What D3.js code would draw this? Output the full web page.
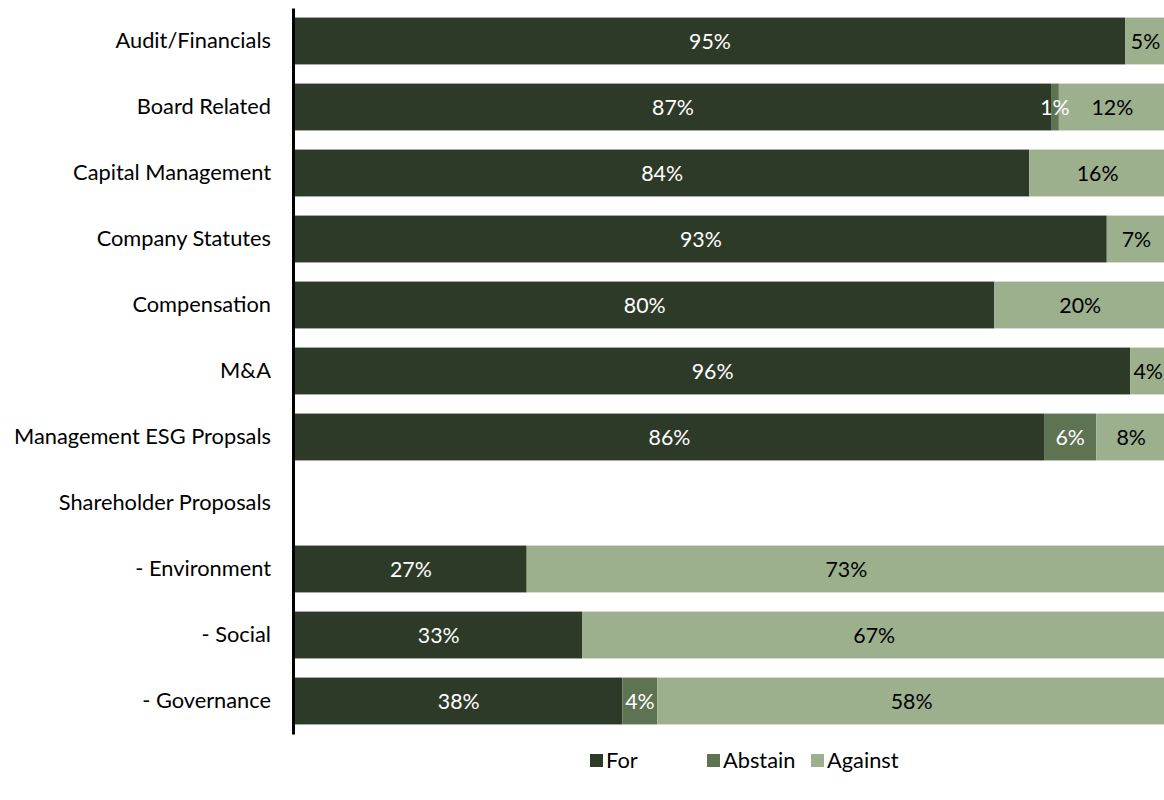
<!DOCTYPE html>
<html><head><meta charset="utf-8">
<script src="https://cdn.jsdelivr.net/npm/d3@7"></script>
<style>body{margin:0;background:#fff}svg{display:block}text{font-family:Lato,"Open Sans",sans-serif}</style>
</head><body>
<svg id="c" width="1164" height="800"></svg>
<script>
const categories = ["Audit/Financials","Board Related","Capital Management","Company Statutes","Compensation","M&A","Management ESG Propsals","Shareholder Proposals","- Environment","- Social","- Governance"];
const seriesNames = ["For","Abstain","Against"];
const forValues     = [95.3, 86.8, 84.3, 93.2, 80.3, 95.9, 86.0, null, 26.6, 33.0, 37.6];
const abstainValues = [0,    0.9,  0,    0,    0,    0,    6.0,  null, 0,    0,    4.0];
const againstValues = [4.7,  12.3, 15.7, 6.8,  19.7, 4.1,  8.0,  null, 73.4, 67.0, 58.4];
const colors = ["#2e3a28","#5d7352","#9cb08e"];
const labelColors = ["#ffffff","#ffffff","#000000"];
const FS = 21.8;

const svg = d3.select("#c");
const x = d3.scaleLinear().domain([0,100]).range([295,1166]);
const y = d3.scaleBand().domain(categories).range([8,734]).paddingInner(0.29).paddingOuter(0.145);

const rows = categories.map((c,i)=>({cat:c, vals:[forValues[i],abstainValues[i],againstValues[i]]}));
const segs = [];
rows.forEach(r=>{
  if (r.vals[0]==null) return;
  let acc=0;
  r.vals.forEach((v,k)=>{ if(v>0) segs.push({cat:r.cat,k,x0:acc,x1:acc+v,v}); acc+=v; });
});

svg.append("g").selectAll("rect").data(segs).join("rect")
  .attr("x",d=>x(d.x0)).attr("width",d=>x(d.x1)-x(d.x0))
  .attr("y",d=>y(d.cat)).attr("height",y.bandwidth())
  .attr("fill",d=>colors[d.k]);

svg.append("g").selectAll("text").data(segs).join("text")
  .attr("x",d=>(x(d.x0)+x(d.x1))/2).attr("y",d=>y(d.cat)+y.bandwidth()/2)
  .attr("dy","0.36em").attr("text-anchor","middle")
  .attr("font-size",21.33).attr("fill",d=>labelColors[d.k])
  .text(d=>Math.round(d.v)+"%");

const ax = svg.append("g").attr("transform","translate(293,0)")
  .call(d3.axisLeft(y).tickSize(0).tickPadding(22));
ax.select(".domain").attr("stroke","#000").attr("stroke-width",3);
ax.selectAll("text").attr("font-size",FS).attr("fill","#000").style("font-family","Lato, 'Open Sans', sans-serif");

const lg = svg.append("g").selectAll("g").data(seriesNames).join("g")
  .attr("transform",(d,i)=>`translate(${[590,707,811][i]},754)`);
lg.append("rect").attr("width",13).attr("height",13).attr("fill",(d,i)=>colors[i]);
lg.append("text").attr("x",16).attr("y",6.5).attr("dy","0.36em").attr("font-size",FS).attr("fill","#000").text(d=>d);
</script>
</body></html>
